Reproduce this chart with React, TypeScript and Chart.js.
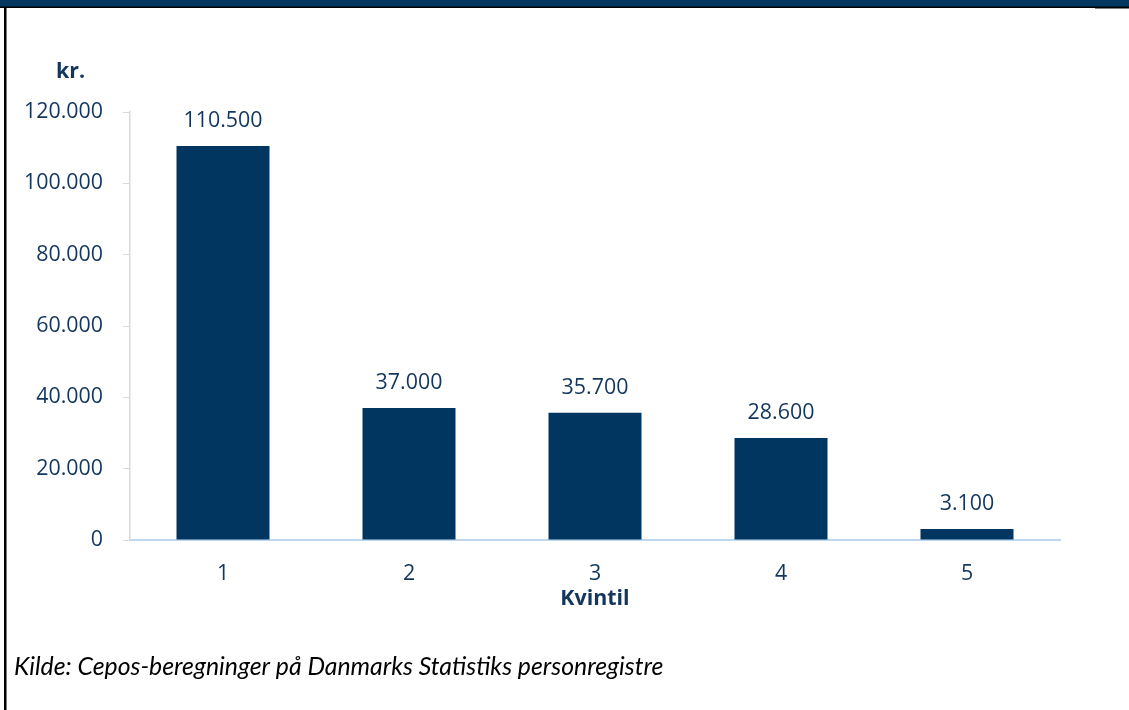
import { useEffect, useRef } from "react";
import { Chart, registerables } from "chart.js";

Chart.register(...registerables);

const categories = ["1", "2", "3", "4", "5"];
const values = [110500, 37000, 35700, 28600, 3100];
const yMin = 0;
const yMax = 120000;
const yStep = 20000;
const yUnit = "kr.";
const xTitle = "Kvintil";
const source = "Kilde: Cepos-beregninger på Danmarks Statistiks personregistre";

const NAVY = "#003660";
const TEXT = "#13365d";
const FS = 21.4;

function fmt(v: number): string {
  return String(v).replace(/\B(?=(\d{3})+(?!\d))/g, ".");
}

const overlayPlugin = {
  id: "overlay",
  beforeDraw(chart: any) {
    const ctx = chart.ctx;
    const w = chart.width;
    const h = chart.height;
    ctx.save();
    ctx.fillStyle = "#ffffff";
    ctx.fillRect(0, 0, w, h);
    ctx.fillStyle = NAVY;
    ctx.fillRect(0, 0, w, 7);
    ctx.fillStyle = "#000000";
    ctx.fillRect(0, 6.5, w, 1.5);
    ctx.fillRect(1095, 7, w - 1095, 1.5);
    ctx.fillRect(4, 7, 2.5, h - 7);
    ctx.restore();
  },
  afterDraw(chart: any) {
    const ctx = chart.ctx;
    ctx.save();
    const meta = chart.getDatasetMeta(0);
    ctx.fillStyle = TEXT;
    ctx.font = `${FS}px 'Open Sans'`;
    ctx.textAlign = "center";
    ctx.textBaseline = "alphabetic";
    meta.data.forEach((bar: any, i: number) => {
      ctx.fillText(fmt(values[i]), bar.x, bar.y - 19);
    });
    ctx.font = `bold ${FS}px 'Open Sans'`;
    ctx.textAlign = "left";
    ctx.fillText(yUnit, 56, 78);
    ctx.fillStyle = "#000000";
    ctx.font = "italic 24.8px Lato";
    ctx.fillText(source, 14, 675);
    ctx.restore();
  },
};

export default function App() {
  const ref = useRef<HTMLCanvasElement | null>(null);

  useEffect(() => {
    document.body.style.margin = "0";
    const canvas = ref.current;
    if (!canvas) return;
    const chart = new Chart(canvas, {
      type: "bar",
      data: {
        labels: categories,
        datasets: [
          {
            data: values,
            backgroundColor: NAVY,
            categoryPercentage: 1,
            barPercentage: 0.5,
          },
        ],
      },
      options: {
        animation: false,
        responsive: false,
        maintainAspectRatio: false,
        layout: { padding: { left: 0, right: 69, top: 112, bottom: 98 } },
        plugins: {
          legend: { display: false },
          tooltip: { enabled: false },
          title: { display: false },
        },
        scales: {
          x: {
            grid: { display: true, drawOnChartArea: false, drawTicks: false },
            border: { display: true, color: "#bdd7ee", width: 2 },
            ticks: {
              color: TEXT,
              font: { family: "'Open Sans'", size: FS },
              padding: 21,
            },
            title: {
              display: true,
              text: xTitle,
              color: TEXT,
              font: { family: "'Open Sans'", size: FS, weight: "bold" },
              padding: { top: 0, bottom: 0 },
            },
            afterFit(scale: any) {
              scale.height = 72;
            },
          },
          y: {
            min: yMin,
            max: yMax,
            ticks: {
              stepSize: yStep,
              color: TEXT,
              font: { family: "'Open Sans'", size: FS },
              padding: 20,
              callback: (v: any) => fmt(Number(v)),
            },
            grid: {
              drawOnChartArea: false,
              drawTicks: true,
              tickLength: 7,
              color: "#d9d9d9",
            },
            border: { display: true, color: "#d9d9d9", width: 1.5 },
            afterFit(scale: any) {
              scale.width = 130;
            },
          },
        },
      },
      plugins: [overlayPlugin],
    });
    return () => chart.destroy();
  }, []);

  return (
    <div style={{ width: 1129, height: 710 }}>
      <canvas ref={ref} width={1129} height={710} style={{ display: "block" }} />
    </div>
  );
}
